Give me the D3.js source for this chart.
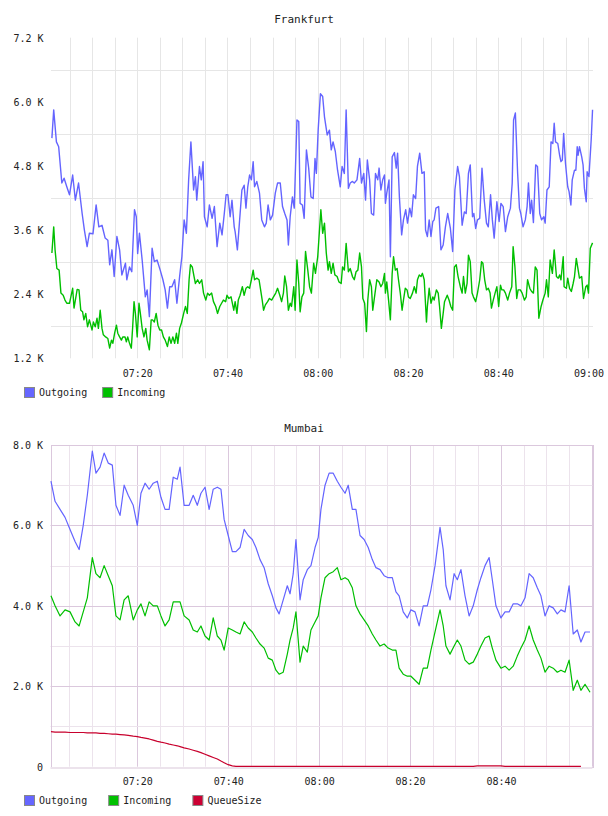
<!DOCTYPE html>
<html>
<head>
<meta charset="utf-8">
<script src="https://cdn.jsdelivr.net/npm/d3@7"></script>
<style>
  body { margin: 0; background: #fff; }
  text { font-family: "DejaVu Sans Mono", monospace; font-size: 10px; fill: #222; }
</style>
</head>
<body>
<svg id="chart" width="608" height="816"></svg>
<script>
// ---- data: [minutes after 07:00, value in K] ----
const frankfurtOutgoing = [[1.1,5.32],[1.5,5.85],[2.1,5.25],[2.6,5.16],[3.3,4.48],[3.8,4.57],[4.4,4.41],[5.0,4.26],[5.7,4.63],[6.3,4.16],[7.0,4.48],[7.8,3.91],[8.3,3.60],[8.9,3.29],[9.4,3.54],[10.2,3.53],[10.9,4.07],[11.5,3.66],[12.2,3.69],[12.9,3.45],[13.5,3.41],[13.9,2.95],[14.4,3.23],[14.9,2.73],[15.5,3.48],[16.1,3.23],[16.6,2.76],[17.4,2.98],[17.7,2.67],[18.3,2.91],[18.8,2.82],[19.4,3.98],[19.8,3.85],[20.1,3.16],[20.5,3.54],[21.1,3.04],[21.8,2.35],[22.2,2.48],[22.7,1.98],[23.3,3.26],[23.8,3.01],[24.4,3.04],[25.1,2.85],[25.7,2.67],[26.2,2.48],[26.7,2.14],[27.2,2.54],[27.7,2.54],[28.3,2.67],[28.8,2.23],[29.4,2.73],[29.9,3.10],[30.4,3.79],[30.9,3.54],[31.4,4.54],[31.9,5.25],[32.5,4.35],[32.9,4.60],[33.2,4.16],[33.8,4.79],[34.2,4.54],[34.6,4.88],[34.9,3.85],[35.5,3.66],[36.0,4.07],[36.6,3.82],[37.1,4.04],[37.7,3.29],[38.3,3.73],[38.8,3.51],[39.3,3.91],[39.7,4.26],[40.1,4.26],[40.6,3.85],[41.0,4.16],[41.5,3.66],[41.7,3.57],[42.2,3.23],[42.7,3.79],[43.2,4.35],[43.7,4.44],[44.1,4.01],[44.5,4.41],[44.9,4.63],[45.3,4.54],[45.7,4.88],[46.0,4.41],[46.5,4.51],[47.1,4.29],[47.6,3.79],[48.2,3.66],[48.6,3.73],[49.0,4.07],[49.5,3.79],[50.0,3.88],[50.6,4.29],[51.1,4.48],[51.7,4.48],[52.2,4.04],[52.7,3.91],[53.2,3.79],[53.5,3.32],[53.9,3.85],[54.4,4.22],[54.8,4.01],[55.4,5.66],[55.8,5.63],[56.1,4.10],[56.6,4.07],[57.0,3.82],[57.5,5.10],[58.0,4.76],[58.5,4.22],[59.0,4.19],[59.4,4.94],[59.7,4.66],[60.1,5.47],[60.6,6.15],[61.1,6.10],[61.5,5.72],[62.1,5.38],[62.6,5.47],[63.0,5.10],[63.4,5.25],[63.9,5.07],[64.4,4.72],[65.0,4.41],[65.4,4.79],[65.9,4.66],[66.3,5.85],[66.8,4.38],[67.2,4.48],[67.7,4.51],[68.1,4.48],[68.7,4.54],[69.3,4.94],[69.7,4.48],[70.2,4.66],[70.6,4.16],[71.0,4.91],[71.5,4.54],[71.9,3.91],[72.4,3.88],[72.8,4.66],[73.3,4.54],[73.6,4.76],[74.0,4.35],[74.4,4.54],[74.8,4.63],[75.0,4.10],[75.3,4.29],[75.8,4.54],[76.1,3.10],[76.5,4.97],[77.0,5.05],[77.4,4.76],[77.7,5.04],[78.1,4.22],[78.6,3.51],[79.0,3.79],[79.5,3.98],[79.9,3.73],[80.4,4.01],[80.8,3.85],[81.2,4.26],[81.7,4.19],[82.1,4.79],[82.6,5.04],[83.1,4.66],[83.6,4.69],[83.9,3.60],[84.3,3.48],[84.7,3.79],[85.1,3.48],[85.5,3.76],[85.8,3.79],[86.2,4.01],[86.8,4.04],[87.3,3.23],[87.8,3.32],[88.3,3.66],[88.8,3.91],[89.4,3.63],[89.9,3.20],[90.4,4.35],[91.0,4.79],[91.4,4.60],[92.0,3.69],[92.5,3.94],[92.9,3.91],[93.4,4.66],[93.8,4.82],[94.3,3.85],[94.6,3.91],[95.0,3.63],[95.4,3.79],[95.9,3.82],[96.4,4.76],[96.9,4.16],[97.4,3.73],[97.8,3.66],[98.3,4.26],[98.7,3.79],[99.1,3.45],[99.7,4.13],[100.2,3.76],[100.6,4.10],[101.1,4.04],[101.6,3.57],[102.1,3.85],[102.7,4.01],[103.1,4.48],[103.4,5.66],[103.8,5.79],[104.3,4.66],[104.7,4.01],[105.0,3.91],[105.5,3.66],[106.0,3.79],[106.4,4.04],[106.7,4.48],[107.1,3.91],[107.4,4.16],[107.8,3.74],[108.3,4.82],[108.7,4.79],[109.2,3.91],[109.6,3.79],[110.1,3.85],[110.4,3.73],[110.8,4.35],[111.3,4.41],[111.7,5.25],[112.1,5.22],[112.4,5.60],[112.7,5.25],[113.2,5.22],[113.6,5.00],[113.9,4.88],[114.2,4.91],[114.5,5.41],[114.9,4.85],[115.4,4.41],[115.7,4.32],[116.1,4.07],[116.4,4.54],[116.9,4.72],[117.2,4.72],[117.5,5.16],[117.7,5.00],[118.0,5.16],[118.5,4.97],[118.8,4.82],[119.1,4.38],[119.5,4.13],[119.7,4.69],[120.1,4.60],[120.6,5.29],[120.9,5.85]]

const frankfurtIncoming = [[1.1,3.17],[1.5,3.66],[1.8,3.23],[2.2,2.88],[2.7,2.85],[3.1,2.42],[3.6,2.38],[4.0,2.29],[4.4,2.23],[5.0,2.23],[5.3,2.35],[5.7,2.51],[6.0,2.14],[6.3,2.29],[6.7,2.49],[7.1,2.48],[7.5,2.10],[7.9,2.07],[8.2,1.92],[8.6,2.04],[9.0,1.79],[9.4,1.92],[10.0,1.73],[10.3,1.88],[10.7,1.79],[11.1,1.95],[11.4,1.76],[11.8,2.10],[12.2,1.76],[12.5,1.64],[13.0,1.60],[13.5,1.57],[13.9,1.39],[14.3,1.54],[14.6,1.48],[15.0,1.67],[15.4,1.82],[15.7,1.67],[16.1,1.60],[16.5,1.54],[16.8,1.60],[17.3,1.60],[17.6,1.51],[17.9,1.60],[18.3,1.48],[18.7,1.39],[19.0,1.79],[19.3,2.26],[19.6,2.04],[20.0,1.60],[20.4,2.23],[20.7,2.04],[21.1,1.76],[21.5,1.60],[21.9,1.76],[22.2,1.54],[22.7,1.36],[23.1,1.92],[23.4,1.92],[23.8,1.88],[24.2,2.04],[24.6,1.82],[25.0,1.73],[25.4,1.73],[25.8,1.60],[26.2,1.54],[26.7,1.42],[27.1,1.60],[27.5,1.48],[27.9,1.60],[28.3,1.48],[28.7,1.67],[29.0,1.48],[29.4,1.76],[29.8,1.86],[30.3,2.04],[30.7,2.17],[31.1,2.04],[31.5,2.67],[31.8,2.95],[32.2,2.91],[32.6,2.73],[32.9,2.60],[33.4,2.67],[33.8,2.60],[34.3,2.67],[34.7,2.42],[35.2,2.29],[35.6,2.42],[36.0,2.38],[36.5,2.42],[36.9,2.26],[37.4,2.17],[37.8,2.04],[38.3,2.17],[38.7,2.23],[39.1,2.29],[39.6,2.26],[39.9,2.38],[40.3,2.32],[40.8,2.35],[41.4,2.10],[41.7,2.26],[42.1,2.04],[42.4,2.29],[42.8,2.38],[43.3,2.54],[43.7,2.38],[44.1,2.51],[44.5,2.54],[44.9,2.51],[45.3,2.67],[45.7,2.85],[46.0,2.67],[46.5,2.70],[47.0,2.67],[47.3,2.51],[47.7,2.29],[48.0,2.10],[48.4,2.20],[48.9,2.26],[49.3,2.32],[49.8,2.29],[50.2,2.35],[50.7,2.42],[51.1,2.51],[51.6,2.38],[52.0,2.26],[52.4,2.42],[52.7,2.74],[53.1,2.54],[53.5,2.10],[53.9,2.23],[54.2,2.17],[54.7,2.54],[55.0,2.10],[55.4,3.04],[55.8,2.60],[56.1,2.07],[56.5,2.35],[56.9,2.42],[57.3,3.20],[57.8,2.85],[58.2,2.54],[58.6,2.42],[59.1,2.98],[59.5,2.79],[60.0,3.10],[60.3,3.48],[60.7,3.98],[61.1,3.54],[61.5,3.73],[61.9,3.17],[62.3,2.85],[62.6,3.01],[63.0,2.79],[63.4,2.98],[63.8,2.76],[64.3,2.73],[64.7,2.63],[65.2,2.60],[65.5,2.91],[65.9,2.85],[66.3,3.35],[66.8,2.82],[67.2,2.88],[67.7,2.73],[68.1,2.67],[68.5,2.82],[68.9,2.85],[69.3,3.17],[69.7,2.91],[70.0,2.32],[70.4,2.23],[70.8,1.70],[71.1,2.29],[71.5,2.67],[71.9,2.54],[72.2,2.10],[72.7,2.42],[73.1,2.67],[73.6,2.63],[74.0,2.54],[74.4,2.60],[74.8,2.79],[75.0,2.42],[75.3,2.63],[75.7,2.29],[76.1,1.92],[76.5,2.79],[76.8,3.10],[77.2,2.85],[77.6,2.88],[77.9,2.67],[78.3,2.42],[78.7,2.10],[79.0,2.29],[79.4,2.51],[79.8,2.48],[80.1,2.35],[80.5,2.32],[81.0,2.42],[81.4,2.54],[81.8,2.42],[82.1,2.67],[82.5,2.76],[82.9,2.73],[83.2,2.79],[83.6,2.67],[84.1,1.88],[84.3,2.17],[84.7,2.51],[85.1,2.23],[85.5,2.35],[85.8,2.29],[86.3,2.48],[86.7,2.42],[87.0,2.17],[87.4,1.76],[87.8,2.04],[88.1,2.26],[88.7,2.38],[89.1,2.29],[89.5,2.17],[89.9,2.10],[90.3,2.91],[90.7,2.95],[91.1,2.73],[91.6,2.54],[92.0,2.42],[92.3,2.73],[92.7,2.42],[93.1,2.60],[93.4,3.13],[93.8,3.01],[94.2,2.42],[94.5,2.35],[95.0,2.26],[95.4,2.42],[95.9,2.67],[96.3,3.01],[96.6,2.98],[97.0,2.67],[97.4,2.48],[97.8,2.51],[98.2,2.42],[98.5,2.14],[98.9,2.29],[99.3,2.42],[99.7,2.54],[100.1,2.17],[100.5,2.57],[100.8,2.48],[101.2,2.48],[101.6,2.42],[102.1,2.29],[102.5,2.42],[103.0,2.54],[103.3,3.29],[103.7,2.91],[104.1,2.32],[104.4,2.48],[104.9,2.48],[105.3,2.42],[105.8,2.29],[106.2,2.35],[106.5,2.67],[107.0,2.51],[107.4,2.45],[107.8,2.42],[108.2,2.91],[108.6,2.85],[109.0,1.95],[109.5,2.17],[109.9,2.29],[110.4,2.42],[110.7,2.67],[111.1,2.35],[111.5,3.04],[112.0,2.79],[112.4,3.23],[112.9,2.73],[113.3,2.70],[113.6,2.76],[113.9,2.67],[114.4,3.10],[114.6,2.54],[115.1,2.51],[115.4,2.70],[115.8,2.51],[116.2,2.45],[116.6,2.60],[116.9,2.73],[117.3,3.07],[117.6,2.91],[118.0,2.70],[118.5,2.73],[118.9,2.32],[119.4,2.54],[119.7,2.57],[120.0,2.42],[120.4,3.26],[120.9,3.36]]

// Mumbai: shared sample times (minutes after 07:00), values in K
const mumbaiMinutes = [1.0,1.9,3.0,4.1,5.2,6.3,7.2,8.1,9.0,10.1,10.9,11.8,12.7,13.6,14.5,15.3,16.2,17.1,18.0,19.1,20.0,20.8,21.7,22.6,23.5,24.4,25.2,26.1,27.0,27.9,28.8,29.4,30.3,31.4,32.3,33.2,34.0,34.9,35.8,36.7,37.6,38.4,39.1,40.0,40.9,41.7,42.6,43.5,44.4,45.3,46.1,47.0,47.9,48.8,49.7,50.5,51.2,52.1,53.0,53.6,54.3,54.9,55.8,56.5,57.4,58.2,59.1,59.8,60.4,61.3,62.2,63.1,64.0,64.8,65.7,66.4,67.3,68.1,69.0,69.9,70.8,71.7,72.5,73.4,74.3,75.2,76.1,76.9,77.6,78.5,79.4,80.2,81.1,82.0,82.9,83.8,84.6,85.5,86.6,87.3,87.9,88.8,89.7,90.4,91.2,92.1,93.0,93.9,94.8,95.6,96.5,97.4,98.1,98.9,100.0,100.9,101.8,102.7,103.6,104.4,105.3,106.2,107.1,108.0,108.8,109.7,110.6,111.5,112.4,113.2,114.1,115.0,115.9,116.8,117.6,118.5,119.6]
const mumbaiOutgoing = [7.1,6.6,6.4,6.2,5.9,5.6,5.4,6.0,6.75,7.85,7.3,7.45,7.8,7.55,7.5,6.5,6.25,7.0,6.75,6.5,6.0,6.8,7.05,6.9,7.05,7.1,6.7,6.4,6.4,7.2,7.15,7.45,6.5,6.5,6.75,6.5,6.8,6.95,6.4,6.9,6.95,6.9,6.15,5.75,5.35,5.35,5.45,5.9,5.75,5.65,5.45,5.15,4.95,4.55,4.25,3.95,3.8,4.15,4.5,4.3,4.8,5.65,4.15,4.65,4.9,5.0,5.45,5.7,6.4,7.0,7.3,7.3,7.1,6.95,6.8,7.0,6.4,6.4,5.75,5.65,5.45,5.15,4.95,4.9,4.75,4.7,4.7,4.35,4.25,3.85,3.7,3.9,3.85,3.5,4.0,4.0,4.4,5.0,5.95,5.4,4.5,4.15,4.8,4.65,4.9,4.25,3.75,4.0,4.4,4.7,5.0,5.2,4.65,4.0,3.7,3.85,3.85,4.05,4.05,4.0,4.2,4.8,4.7,4.45,4.25,3.75,4.0,3.95,3.8,3.9,3.85,4.5,3.3,3.4,3.1,3.35,3.35]
const mumbaiIncoming = [4.25,4.0,3.75,3.9,3.85,3.6,3.5,3.85,4.2,5.2,4.8,4.7,5.0,4.75,4.5,3.75,3.65,4.15,4.25,3.65,3.9,4.05,3.75,4.1,4.0,4.0,3.75,3.5,3.65,4.1,4.1,4.1,3.75,3.65,3.4,3.35,3.5,3.25,3.15,3.7,3.25,3.15,2.9,3.45,3.4,3.35,3.3,3.6,3.45,3.35,3.2,3.05,2.95,2.7,2.65,2.4,2.3,2.35,2.8,3.15,3.45,3.85,2.6,3.0,2.85,3.4,3.6,3.75,4.2,4.7,4.8,4.85,4.95,4.65,4.7,4.65,4.45,4.0,3.8,3.65,3.5,3.3,3.15,3.0,3.05,2.95,2.9,2.9,2.45,2.3,2.25,2.25,2.15,2.05,2.45,2.45,2.9,3.35,3.9,3.5,3.0,2.8,3.0,3.15,3.0,2.65,2.55,2.6,2.8,3.0,3.2,3.25,2.95,2.65,2.45,2.5,2.4,2.5,2.75,2.95,3.15,3.5,3.15,2.9,2.7,2.35,2.5,2.45,2.35,2.4,2.35,2.65,1.9,2.15,1.9,2.05,1.85]
const mumbaiQueueSize = [0.87,0.86,0.86,0.86,0.85,0.85,0.85,0.85,0.84,0.84,0.84,0.83,0.83,0.82,0.81,0.81,0.80,0.79,0.78,0.76,0.75,0.73,0.71,0.69,0.66,0.63,0.61,0.59,0.56,0.54,0.52,0.50,0.47,0.44,0.41,0.38,0.35,0.31,0.27,0.23,0.19,0.14,0.10,0.05,0.02,0.01,0.01,0.01,0.01,0.01,0.01,0.01,0.01,0.01,0.01,0.01,0.01,0.01,0.01,0.01,0.01,0.01,0.01,0.01,0.01,0.01,0.01,0.01,0.01,0.01,0.01,0.01,0.01,0.01,0.01,0.01,0.01,0.01,0.01,0.01,0.01,0.01,0.01,0.01,0.01,0.01,0.01,0.01,0.01,0.01,0.01,0.01,0.01,0.01,0.01,0.01,0.01,0.01,0.01,0.01,0.01,0.01,0.01,0.01,0.01,0.01,0.01,0.01,0.02,0.02,0.02,0.02,0.02,0.02,0.02,0.01,0.01,0.01,0.01,0.01,0.01,0.01,0.01,0.01,0.01,0.01,0.01,0.01,0.01,0.01,0.01,0.01,0.01,0.01,0.01]

const frankfurtYLabels = [1.2, 2.4, 3.6, 4.8, 6.0, 7.2]
const frankfurtYGrid = [1.8, 3.0, 4.2, 5.4, 6.6]
const mumbaiYLabels = [0, 2, 4, 6, 8]
const mumbaiYMinorGrid = [1, 3, 5, 7]
const frankfurtTimeLabels = ["07:20", "07:40", "08:00", "08:20", "08:40", "09:00"]
const mumbaiTimeLabels = ["07:20", "07:40", "08:00", "08:20", "08:40"]

const seriesNames = ["Outgoing", "Incoming", "QueueSize"]
const seriesColors = ["#6464ff", "#00bf00", "#c8002d"]
const legendColors = ["#6666ff", "#00c000", "#cc0033"]

// ---- helpers ----
const svg = d3.select("#chart")
const toMinutes = s => { const p = s.split(":").map(Number); return (p[0] - 7) * 60 + p[1] }
const fmtTime = m => { const h = 7 + Math.floor(m / 60), mm = Math.round(m % 60); return String(h).padStart(2, "0") + ":" + String(mm).padStart(2, "0") }
const fmtK = v => v === 0 ? "0" : v.toFixed(1) + " K"

function drawPanel(cfg) {
  const g = svg.append("g")
  const x = d3.scaleLinear().domain(cfg.xDomain).range([cfg.left, cfg.right])
  const y = d3.scaleLinear().domain(cfg.yDomain).range([cfg.bottom, cfg.top])

  // title
  g.append("text").attr("x", 304).attr("y", cfg.titleY).attr("text-anchor", "middle")
    .attr("dominant-baseline", "middle").style("font-size", "11px").text(cfg.title)

  // vertical grid, every 5 minutes
  const vmins = d3.range(5, 121, 5).filter(m => m <= cfg.xDomain[1])
  g.append("g").selectAll("line").data(vmins).join("line")
    .attr("x1", d => Math.round(x(d)) + 0.5).attr("x2", d => Math.round(x(d)) + 0.5)
    .attr("y1", cfg.top).attr("y2", cfg.bottom)
    .attr("stroke", d => cfg.majorColor && d % 20 === 0 ? cfg.majorColor : cfg.gridColor)
    .attr("stroke-width", 1)

  // horizontal grid
  g.append("g").selectAll("line").data(cfg.yGrid).join("line")
    .attr("x1", cfg.left).attr("x2", cfg.right)
    .attr("y1", d => Math.round(y(d)) + 0.5).attr("y2", d => Math.round(y(d)) + 0.5)
    .attr("stroke", cfg.gridColor)
  if (cfg.yMajor) {
    g.append("g").selectAll("line").data(cfg.yMajor).join("line")
      .attr("x1", cfg.left).attr("x2", cfg.right)
      .attr("y1", d => Math.round(y(d)) + 0.5).attr("y2", d => Math.round(y(d)) + 0.5)
      .attr("stroke", cfg.majorColor)
  }
  if (cfg.border) {
    g.append("rect").attr("x", Math.round(cfg.left) + 0.5).attr("y", Math.round(cfg.top) + 0.5)
      .attr("width", Math.round(cfg.right - cfg.left)).attr("height", Math.round(cfg.bottom - cfg.top))
      .attr("fill", "none").attr("stroke", cfg.majorColor)
    g.append("line").attr("x1", cfg.left).attr("x2", cfg.right)
      .attr("y1", Math.round(cfg.bottom) + 1).attr("y2", Math.round(cfg.bottom) + 1)
      .attr("stroke", cfg.gridColor).attr("stroke-width", 2)
  }

  // y labels
  const yAxis = g.append("g").attr("transform", `translate(${cfg.left},0)`)
    .call(d3.axisLeft(y).tickValues(cfg.yLabels).tickSize(0).tickPadding(7.5).tickFormat(fmtK))
  yAxis.select(".domain").remove()
  yAxis.selectAll("text").attr("dy", "0.35em").style("font-family", null).style("font-size", null)
  yAxis.attr("font-family", null).attr("font-size", null)

  // x labels
  const xAxis = g.append("g").attr("transform", `translate(0,${cfg.bottom})`)
    .call(d3.axisBottom(x).tickValues(cfg.timeLabels.map(toMinutes)).tickSize(0).tickFormat(fmtTime))
  xAxis.select(".domain").remove()
  xAxis.selectAll("text").attr("y", 15).attr("dy", "0.35em")
  xAxis.attr("font-family", null).attr("font-size", null)

  // lines
  const line = d3.line().x(d => x(d[0])).y(d => y(d[1]))
  cfg.series.forEach(s => {
    g.append("path").datum(s.points).attr("d", line)
      .attr("fill", "none").attr("stroke", s.color).attr("stroke-width", cfg.lineWidth)
      .attr("stroke-linejoin", "round")
  })

  // legend
  const lg = g.append("g").attr("transform", `translate(24,${cfg.legendY})`)
  const probe = lg.append("text").text(cfg.series.reduce((a, s) => s.name.length > a.length ? s.name : a, ""))
  const colW = probe.node().getComputedTextLength() + 30
  probe.remove()
  const item = lg.selectAll("g").data(cfg.series).join("g").attr("transform", (d, i) => `translate(${i * colW},0)`)
  item.append("rect").attr("x", 0.5).attr("y", 0.5).attr("width", 10).attr("height", 10)
    .attr("fill", d => d.legend).attr("stroke", "#888")
  item.append("text").attr("x", 15).attr("y", 5.5).attr("dy", "0.35em").text(d => d.name)
}

drawPanel({
  title: "Frankfurt", titleY: 20,
  left: 51, right: 593, top: 37.7, bottom: 358.3,
  xDomain: [0.9, 121.0], yDomain: [1.2, 7.2],
  yLabels: frankfurtYLabels, yGrid: frankfurtYGrid,
  timeLabels: frankfurtTimeLabels,
  gridColor: "#e6e6e6", lineWidth: 1.4,
  legendY: 387,
  series: [
    { name: seriesNames[0], color: seriesColors[0], legend: legendColors[0], points: frankfurtOutgoing },
    { name: seriesNames[1], color: seriesColors[1], legend: legendColors[1], points: frankfurtIncoming }
  ]
})

drawPanel({
  title: "Mumbai", titleY: 429,
  left: 50.5, right: 592.3, top: 445, bottom: 766.7,
  xDomain: [0.9, 120.1], yDomain: [0, 8],
  yLabels: mumbaiYLabels, yGrid: mumbaiYMinorGrid, yMajor: [2, 4, 6],
  timeLabels: mumbaiTimeLabels,
  gridColor: "#ece3ec", majorColor: "#dbc8dd", border: true, lineWidth: 1.2,
  legendY: 795,
  series: [
    { name: seriesNames[0], color: seriesColors[0], legend: legendColors[0], points: mumbaiMinutes.map((m, i) => [m, mumbaiOutgoing[i]]) },
    { name: seriesNames[1], color: seriesColors[1], legend: legendColors[1], points: mumbaiMinutes.map((m, i) => [m, mumbaiIncoming[i]]) },
    { name: seriesNames[2], color: seriesColors[2], legend: legendColors[2], points: mumbaiMinutes.map((m, i) => [m, mumbaiQueueSize[i]]) }
  ]
})
</script>
</body>
</html>
